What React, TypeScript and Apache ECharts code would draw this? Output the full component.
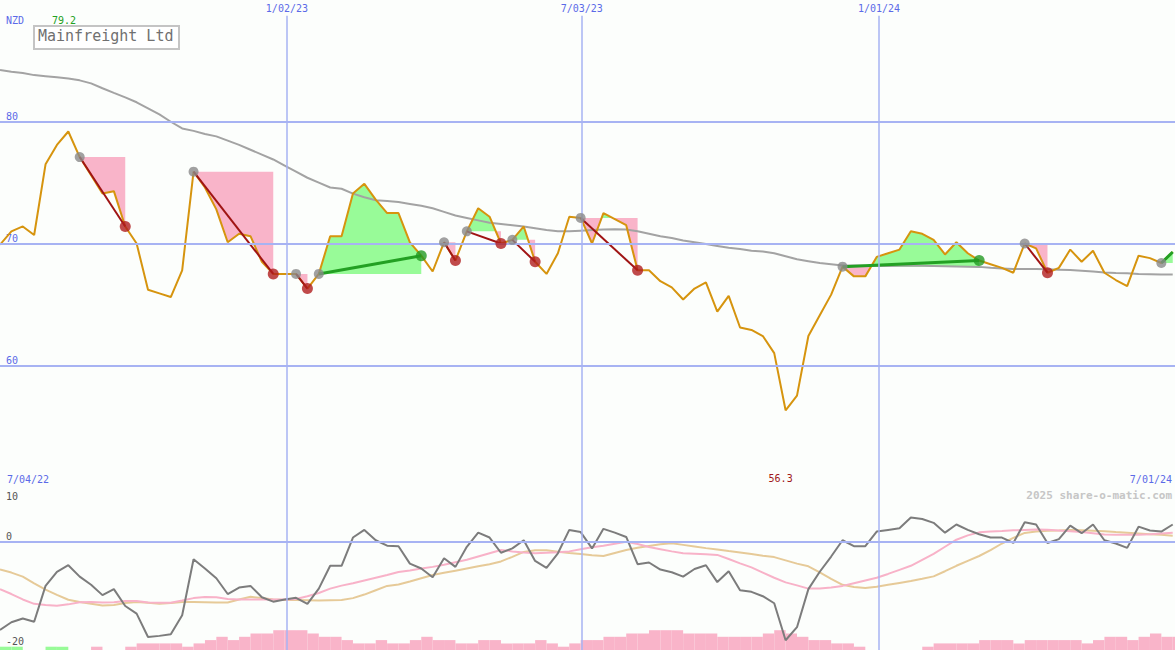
import React, { useEffect, useRef } from 'react';
import * as echarts from 'echarts';

const FONT = '"DejaVu Sans Mono", monospace';

// weekly closing prices (NZD)
const price = [
  69.9, 71.0, 71.4, 70.7, 76.5, 78.1, 79.2, 77.1, 75.6, 74.1,
  74.3, 71.4, 70.0, 66.2, 65.9, 65.6, 67.8, 75.9, 74.6, 72.8,
  70.1, 70.8, 70.6, 68.5, 67.5, 67.5, 67.5, 66.3, 67.5, 70.6,
  70.6, 74.1, 74.9, 73.6, 72.5, 72.5, 70.1, 69.0, 67.7, 70.1,
  68.6, 71.0, 72.9, 72.2, 70.0, 70.3, 71.4, 68.5, 67.5, 69.2,
  72.2, 72.1, 70.0, 72.5, 72.0, 71.5, 67.8, 67.8, 66.9, 66.4,
  65.4, 66.3, 66.8, 64.4, 65.7, 63.1, 62.9, 62.4, 61.0, 56.3,
  57.5, 62.4, 64.1, 65.8, 68.1, 67.3, 67.3, 68.9, 69.2, 69.5,
  71.0, 70.8, 70.3, 69.1, 70.1, 69.2, 68.6, 68.3, 68.0, 67.6,
  70.0, 69.6, 67.6, 68.0, 69.5, 68.5, 69.4, 67.6, 67.0, 66.5,
  69.0, 68.8, 68.4, 69.3,
];

// long moving average
const movingAverage = [
  84.25, 84.1, 84.0, 83.83, 83.74, 83.65, 83.55, 83.4, 83.15, 82.75,
  82.37, 82.0, 81.6, 81.1, 80.6, 80.0, 79.45, 79.25, 79.0, 78.8,
  78.45, 78.1, 77.7, 77.3, 76.9, 76.4, 75.9, 75.4, 75.0, 74.6,
  74.5, 74.1, 73.8, 73.55, 73.5, 73.4, 73.25, 73.1, 72.9, 72.6,
  72.3, 72.1, 71.9, 71.7, 71.6, 71.5, 71.4, 71.25, 71.1, 71.0,
  71.0, 71.05, 71.1, 71.15, 71.17, 71.15, 71.0, 70.8, 70.6, 70.45,
  70.25, 70.1, 69.95, 69.8, 69.65, 69.55, 69.4, 69.35, 69.2, 68.95,
  68.7, 68.55, 68.4, 68.3, 68.2, 68.2, 68.17, 68.15, 68.15, 68.18,
  68.2, 68.18, 68.16, 68.14, 68.12, 68.1, 68.08, 68.0, 67.95, 67.9,
  67.9, 67.9, 67.88, 67.85, 67.82, 67.77, 67.7, 67.62, 67.58, 67.55,
  67.5, 67.48, 67.46, 67.45,
];

// oscillator panel
const oscFast = [
  -16.3, -14.9, -14.2, -14.8, -8.2, -5.6, -4.4, -6.5, -8.0, -9.9,
  -8.8, -11.9, -13.3, -17.6, -17.4, -17.1, -13.6, -3.3, -5.0, -6.8,
  -9.7, -8.5, -8.2, -10.3, -11.1, -10.7, -10.4, -11.5, -8.7, -4.5,
  -4.5, 0.7, 2.1, 0.2, -0.8, -0.9, -4.1, -5.0, -6.6, -3.1,
  -4.7, -1.0, 1.6, 0.7, -2.1, -1.3, 0.2, -3.6, -4.9, -2.2,
  2.1, 1.7, -1.3, 2.3, 1.6, 0.8, -4.2, -3.9, -5.2, -5.7,
  -6.5, -5.1, -4.4, -7.5, -5.5, -9.0, -9.3, -10.1, -11.4, -18.2,
  -15.8, -8.8, -5.6, -2.8, 0.2, -0.9, -0.9, 1.8, 2.1, 2.4,
  4.4, 4.1, 3.4, 1.6, 3.1, 2.1, 1.3, 0.7, 0.7, -0.3,
  3.5, 3.1, -0.3, 0.4, 2.9, 1.5, 3.1, 0.2, -0.4, -1.2,
  2.7, 2.0, 1.8, 3.1,
];

const oscMid = [
  -8.8, -9.7, -10.7, -11.5, -11.7, -11.85, -11.6, -11.2, -11.15, -11.25,
  -11.2, -11.0, -11.0, -11.25, -11.3, -11.3, -10.9, -10.45, -10.25, -10.3,
  -10.6, -10.7, -10.7, -10.7, -10.7, -10.7, -10.6, -10.1, -9.5, -8.7,
  -8.15, -7.7, -7.2, -6.7, -6.2, -5.65, -5.35, -5.0, -4.7, -4.3,
  -3.85, -3.4, -2.8, -2.2, -1.6, -1.85, -2.05, -2.2, -2.1, -2.0,
  -1.85, -1.45, -1.1, -0.8, -0.45, -0.1, -0.5, -1.05, -1.45, -1.85,
  -2.2, -2.3, -2.4, -2.5, -3.25, -4.05, -4.8, -5.75, -6.7, -7.55,
  -8.1, -8.7, -8.7, -8.5, -8.2, -7.7, -7.2, -6.7, -6.0, -5.25,
  -4.5, -3.4, -2.3, -1.0, 0.3, 1.1, 1.65, 1.8, 1.9, 2.03,
  2.1, 2.17, 2.15, 2.0, 1.85, 1.7, 1.5, 1.27, 1.2, 1.2,
  1.2, 1.3, 1.45, 1.6,
];

const oscSlow = [
  -5.2, -5.75, -6.5, -7.75, -8.9, -9.85, -10.75, -11.15, -11.5, -11.8,
  -11.7, -11.35, -11.15, -11.3, -11.5, -11.35, -11.15, -11.15, -11.2, -11.25,
  -11.25, -10.7, -10.2, -10.45, -10.7, -10.8, -10.8, -10.85, -10.9, -10.85,
  -10.8, -10.45, -9.8, -9.0, -8.2, -7.95, -7.4, -6.8, -6.2, -5.8,
  -5.4, -5.0, -4.6, -4.2, -3.7, -2.85, -1.95, -1.65, -1.65, -1.9,
  -2.15, -2.35, -2.55, -2.7, -2.15, -1.6, -1.2, -0.85, -0.55, -0.35,
  -0.65, -0.95, -1.25, -1.5, -1.8, -2.05, -2.35, -2.65, -2.9, -3.5,
  -4.1, -4.6, -5.7, -6.9, -8.0, -8.4, -8.6, -8.35, -8.0, -7.65,
  -7.3, -6.9, -6.45, -5.5, -4.5, -3.6, -2.7, -1.6, -0.4, 0.65,
  1.55, 1.8, 1.95, 2.0, 2.1, 2.05, 1.95, 1.85, 1.7, 1.6,
  1.45, 1.3, 1.2, 1.05,
];

// bottom histogram (positive = green, negative = pink)
const barValues = [
  1, 1, 0, 0, 1, 1, 0, 0, -1, 0,
  0, -1, -2, -2, -2, -2, -1, -2, -3, -4,
  -3, -4, -5, -5, -6, -6, -6, -5, -4, -4,
  -3, -2, -2, -3, -2, -2, -3, -4, -3, -3,
  -2, -2, -3, -3, -2, -2, -2, -3, -2, -1,
  -2, -3, -3, -4, -4, -5, -5, -6, -6, -6,
  -5, -5, -5, -4, -4, -4, -4, -5, -6, -5,
  -4, -3, -3, -2, -2, -1, 0, 0, 0, 0,
  0, -1, -2, -2, -2, -2, -3, -3, -3, -2,
  -3, -3, -3, -3, -3, -2, -3, -4, -4, -3,
  -4, -5, -4, -4,
];

// trade signals (week indices)
const signalStarts = [7, 17, 26, 28, 39, 41, 45, 51, 74, 90, 102];
const signalEnds = [11, 24, 27, 37, 40, 44, 47, 56, 86, 92, 103];
const signalClosed = [true, true, true, true, true, true, true, true, true, true, false];

const priceTicks = [60, 70, 80];
const oscBottomTicks = [0, -20];
const oscTopTick = 10;
const dateLabels = ['1/02/23', '7/03/23', '1/01/24'];
const dateWeeks = [25.2, 51.1, 77.2];
const rangeLabels = ['7/04/22', '7/01/24'];
const currency = 'NZD';
const title = 'Mainfreight Ltd';
const watermark = '2025 share-o-matic.com';

const X_MIN = 0;
const X_MAX = 103.2;
const P_MIN = 50;
const P_MAX = 90;
const O_MIN = -20;
const O_MAX = 10;
const DATE_LINE_TOP = 88.7;

const PINK = '#f9b4c9';
const GREEN_FILL = '#98fb98';
const BLUE_TEXT = '#5b6ae8';
const GRID_BLUE = '#a7b3f3';

function buildOption() {
  const maxPrice = Math.max(...price);
  const minPrice = Math.min(...price);
  const minIdx = price.indexOf(minPrice);

  const signalFills = signalStarts.map((s, i) => [s, signalEnds[i], price[s]]);
  const signalLines = signalStarts.map((s, i) => [s, signalEnds[i], price[s], price[signalEnds[i]]]);
  const startMarks = signalStarts.map((s) => [s, price[s]]);
  const endUp: number[][] = [];
  const endDown: number[][] = [];
  signalEnds.forEach((e, i) => {
    if (!signalClosed[i]) return;
    if (price[e] > price[signalStarts[i]]) endUp.push([e, price[e]]);
    else endDown.push([e, price[e]]);
  });

  const weeks = price.map((_, i) => i);
  const labelRich = { color: BLUE_TEXT, fontSize: 10, fontFamily: FONT };

  return {
    animation: false,
    backgroundColor: '#fcfefc',
    textStyle: { fontFamily: FONT },
    grid: [
      { left: 0, top: 0, width: 1175, height: 487, outerBoundsMode: 'none', containLabel: false },
      { left: 0, top: 487, width: 1175, height: 163, outerBoundsMode: 'none', containLabel: false },
      { left: 0, top: 617, width: 1175, height: 33, outerBoundsMode: 'none', containLabel: false },
    ],
    xAxis: [
      {
        type: 'value', gridIndex: 0, min: X_MIN, max: X_MAX,
        axisLine: { show: false }, axisTick: { show: false }, splitLine: { show: false },
        axisLabel: {
          inside: true, margin: 3, showMinLabel: true, showMaxLabel: true,
          alignMinLabel: 'left', alignMaxLabel: 'right',
          color: BLUE_TEXT, fontSize: 10, fontFamily: FONT,
          formatter: (v: number) =>
            v === X_MIN ? `{first|${rangeLabels[0]}}` : v === X_MAX ? `{last|${rangeLabels[1]}}` : '',
          rich: {
            first: { ...labelRich, padding: [0, 0, 0, 7] },
            last: { ...labelRich, padding: [0, 3, 0, 0] },
          },
        },
      },
      {
        type: 'value', gridIndex: 1, min: X_MIN, max: X_MAX, position: 'top',
        axisLine: { show: true, lineStyle: { color: '#6f7de8', width: 2 } },
        axisTick: { show: false }, axisLabel: { show: false }, splitLine: { show: false },
      },
      { type: 'value', gridIndex: 2, min: X_MIN, max: X_MAX, show: false },
    ],
    yAxis: [
      {
        type: 'value', gridIndex: 0, position: 'left', min: P_MIN, max: P_MAX, interval: 10,
        axisLine: { show: false }, axisTick: { show: false }, splitLine: { show: false },
        axisLabel: {
          inside: true, margin: 6, verticalAlign: 'bottom', color: BLUE_TEXT, fontSize: 10, fontFamily: FONT,
          formatter: (v: number) => (priceTicks.includes(v) ? String(v) : ''),
        },
      },
      {
        type: 'value', gridIndex: 1, position: 'left', offset: 0, min: O_MIN, max: O_MAX, interval: 10,
        axisLine: { show: false }, axisTick: { show: false }, splitLine: { show: false },
        axisLabel: {
          inside: true, margin: 6, verticalAlign: 'bottom', color: '#555', fontSize: 10, fontFamily: FONT,
          formatter: (v: number) =>
            !oscBottomTicks.includes(v) ? '' : v === O_MIN ? `{low|${v}}` : String(v),
          rich: { low: { padding: [0, 0, 4, 0], color: '#555', fontSize: 10, fontFamily: FONT } },
        },
      },
      {
        type: 'value', gridIndex: 1, position: 'left', offset: 0, min: O_MIN, max: O_MAX, interval: 10,
        axisLine: { show: false }, axisTick: { show: false }, splitLine: { show: false },
        axisLabel: {
          inside: true, margin: 6, verticalAlign: 'top', color: '#555', fontSize: 10, fontFamily: FONT,
          formatter: (v: number) => (v === oscTopTick ? `{high|${v}}` : ''),
          rich: { high: { padding: [4, 0, 0, 0], color: '#555', fontSize: 10, fontFamily: FONT } },
        },
      },
      { type: 'value', gridIndex: 2, min: 0, max: 10, show: false },
    ],
    series: [
      // grid lines of the price panel
      {
        type: 'line', xAxisIndex: 0, yAxisIndex: 0, data: [], z: 0, silent: true,
        markLine: {
          silent: true, symbol: ['none', 'none'], animation: false,
          lineStyle: { color: GRID_BLUE, width: 2, type: 'solid' },
          label: { show: false },
          data: [
            ...priceTicks.map((v) => ({ yAxis: v })),
            ...dateWeeks.map((w, i) => [
              {
                coord: [w, P_MIN],
                lineStyle: { width: 1.5 },
                label: {
                  show: true, position: 'end', distance: 2, formatter: dateLabels[i],
                  color: BLUE_TEXT, fontSize: 10, fontFamily: FONT,
                },
              },
              { coord: [w, DATE_LINE_TOP] },
            ]),
          ],
        },
      },
      // signal fills
      {
        type: 'custom', xAxisIndex: 0, yAxisIndex: 0, z: 1, silent: true,
        encode: { x: [0, 1], y: 2 },
        data: signalFills,
        renderItem: (_p: any, api: any) => {
          const s = api.value(0) as number;
          const e = api.value(1) as number;
          const L = api.value(2) as number;
          const above: number[][] = [api.coord([s, L])];
          const below: number[][] = [api.coord([s, L])];
          for (let k = s; k <= e; k++) {
            const p = price[k];
            above.push(api.coord([k, Math.max(p, L)]));
            below.push(api.coord([k, Math.min(p, L)]));
            if (k < e) {
              const q = price[k + 1];
              if ((p - L) * (q - L) < 0) {
                const xc = k + (L - p) / (q - p);
                above.push(api.coord([xc, L]));
                below.push(api.coord([xc, L]));
              }
            }
          }
          above.push(api.coord([e, L]));
          below.push(api.coord([e, L]));
          return {
            type: 'group',
            children: [
              { type: 'polygon', shape: { points: below }, style: { fill: PINK } },
              { type: 'polygon', shape: { points: above }, style: { fill: GREEN_FILL } },
            ],
          };
        },
      },
      {
        type: 'line', xAxisIndex: 0, yAxisIndex: 0, z: 2, symbol: 'none', silent: true,
        data: movingAverage.map((v, i) => [weeks[i], v]),
        lineStyle: { color: '#a3a3a3', width: 2 },
      },
      {
        type: 'line', xAxisIndex: 0, yAxisIndex: 0, z: 3, symbol: 'none', silent: true,
        data: price.map((v, i) => [weeks[i], v]),
        lineStyle: { color: '#d6940e', width: 2 },
        markPoint: {
          silent: true, animation: false, symbol: 'circle', symbolSize: 1,
          itemStyle: { color: 'rgba(0,0,0,0)' },
          data: [{ coord: [minIdx, P_MIN], value: minPrice }],
          label: {
            show: true, position: 'top', distance: 3, offset: [-5, 0],
            formatter: minPrice.toFixed(1), color: '#a01818', fontSize: 10, fontFamily: FONT,
          },
        },
      },
      // signal connecting lines
      {
        type: 'custom', xAxisIndex: 0, yAxisIndex: 0, z: 4, silent: true,
        encode: { x: [0, 1], y: [2, 3] },
        data: signalLines,
        renderItem: (_p: any, api: any) => {
          const a = api.coord([api.value(0), api.value(2)]);
          const b = api.coord([api.value(1), api.value(3)]);
          const up = (api.value(3) as number) > (api.value(2) as number);
          return {
            type: 'line',
            shape: { x1: a[0], y1: a[1], x2: b[0], y2: b[1] },
            style: { stroke: up ? '#23a023' : '#a01414', lineWidth: up ? 3 : 2 },
          };
        },
      },
      {
        type: 'scatter', xAxisIndex: 0, yAxisIndex: 0, z: 5, silent: true,
        symbolSize: 10, itemStyle: { color: '#8a8a8a' }, data: startMarks,
      },
      {
        type: 'scatter', xAxisIndex: 0, yAxisIndex: 0, z: 5, silent: true,
        symbolSize: 11, itemStyle: { color: '#b01e1e' }, data: endDown,
      },
      {
        type: 'scatter', xAxisIndex: 0, yAxisIndex: 0, z: 5, silent: true,
        symbolSize: 11, itemStyle: { color: '#239a23' }, data: endUp,
      },
      // oscillator panel grid lines
      {
        type: 'line', xAxisIndex: 1, yAxisIndex: 1, data: [], z: 0, silent: true,
        markLine: {
          silent: true, symbol: ['none', 'none'], animation: false,
          lineStyle: { color: GRID_BLUE, width: 2, type: 'solid' },
          label: { show: false },
          data: [
            { yAxis: 0 },
            ...dateWeeks.map((w) => ({ xAxis: w, lineStyle: { width: 1.5 } })),
          ],
        },
      },
      {
        type: 'line', xAxisIndex: 1, yAxisIndex: 1, z: 2, symbol: 'none', silent: true,
        data: oscSlow.map((v, i) => [weeks[i], v]),
        lineStyle: { color: '#e6ca98', width: 2 },
      },
      {
        type: 'line', xAxisIndex: 1, yAxisIndex: 1, z: 3, symbol: 'none', silent: true,
        data: oscMid.map((v, i) => [weeks[i], v]),
        lineStyle: { color: '#f8b2c8', width: 2 },
      },
      {
        type: 'line', xAxisIndex: 1, yAxisIndex: 1, z: 4, symbol: 'none', silent: true,
        data: oscFast.map((v, i) => [weeks[i], v]),
        lineStyle: { color: '#7c7c7c', width: 2 },
      },
      // histogram
      {
        type: 'custom', xAxisIndex: 2, yAxisIndex: 3, z: 1, silent: true, clip: true,
        encode: { x: 0, y: 1 },
        data: barValues.map((v, k) => [k, Math.abs(v), v > 0 ? 1 : 0]),
        renderItem: (_p: any, api: any) => {
          const k = api.value(0) as number;
          const h = api.value(1) as number;
          if (!h) return null;
          const p0 = api.coord([k, 0]);
          const p1 = api.coord([k + 1, h]);
          return {
            type: 'rect',
            shape: { x: p0[0], y: p1[1], width: p1[0] - p0[0], height: p0[1] - p1[1] },
            style: { fill: api.value(2) ? GREEN_FILL : PINK },
          };
        },
      },
    ],
    graphic: [
      {
        type: 'text', left: 6, top: 15, z: 10,
        style: { text: currency, fill: BLUE_TEXT, font: `10px ${FONT}` },
      },
      {
        type: 'text', left: 52, top: 15, z: 10,
        style: { text: maxPrice.toFixed(1), fill: '#22a022', font: `10px ${FONT}` },
      },
      {
        type: 'rect', left: 33, top: 25, z: 10,
        shape: { width: 145, height: 23 },
        style: { fill: '#ffffff', stroke: '#c4c4c4', lineWidth: 2 },
      },
      {
        type: 'text', left: 38, top: 28, z: 11,
        style: { text: title, fill: '#707070', font: `15px ${FONT}` },
      },
      {
        type: 'text', right: 3, top: 490, z: 10,
        style: { text: watermark, fill: '#c6c6c6', font: `bold 11px ${FONT}` },
      },
    ],
  };
}

export default function App() {
  const ref = useRef<HTMLDivElement>(null);
  useEffect(() => {
    if (!ref.current) return;
    const chart = echarts.init(ref.current, null, { renderer: 'svg' });
    chart.setOption(buildOption() as any);
    return () => chart.dispose();
  }, []);
  return (
    <div
      ref={ref}
      style={{ position: 'absolute', left: 0, top: 0, width: 1175, height: 650 }}
    />
  );
}
